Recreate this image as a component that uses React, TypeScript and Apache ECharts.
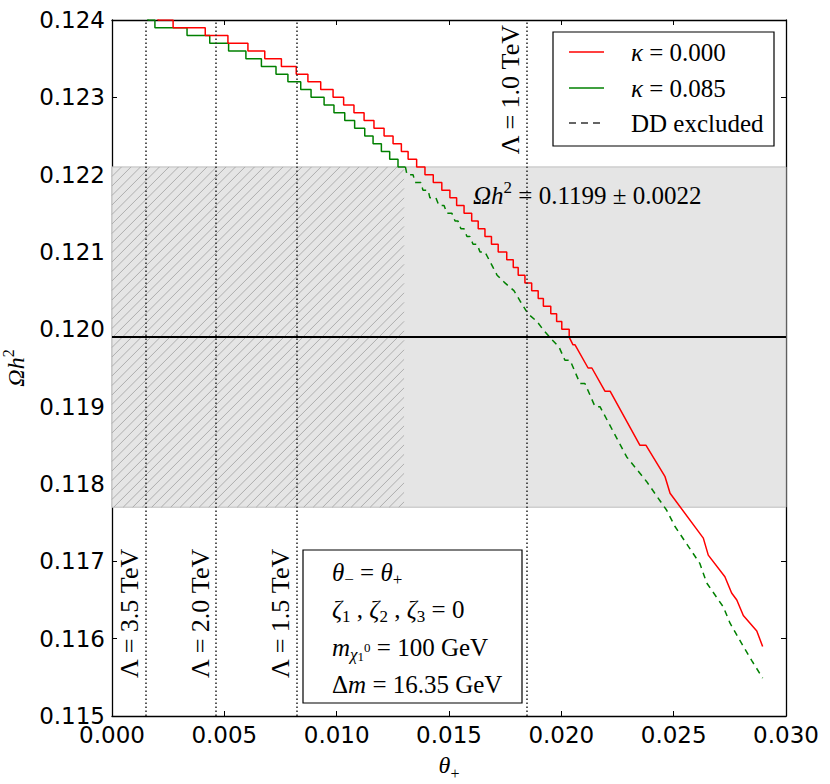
import React, { useEffect, useRef } from "react";
import * as echarts from "echarts";

const SERIF = "'Liberation Serif', 'DejaVu Serif', serif";
const SANS = "'DejaVu Sans', sans-serif";

const X_MIN = 0;
const X_MAX = 0.03;
const X_STEP = 0.005;
const Y_MIN = 0.115;
const Y_MAX = 0.124;
const Y_STEP = 0.001;

const OMEGA_CENTRAL = 0.1199;
const OMEGA_ERROR = 0.0022;
const HATCH_LIMIT = 0.013;

const LAMBDA_LABELS = ["3.5", "2.0", "1.5", "1.0"];
const LAMBDA_THETA = [0.0015, 0.00463, 0.00823, 0.01846];

const LEGEND_LABELS = ["κ = 0.000", "κ = 0.085", "DD excluded"];

// kappa = 0.000 : staircase part [theta, Omega h^2] (level start points)
const RED_STAIRS: number[][] = [
  [0.00169, 0.1241], [0.00205, 0.124], [0.00272, 0.1239], [0.00415, 0.1238],
  [0.00516, 0.1237], [0.00605, 0.1236], [0.0068, 0.1235], [0.00754, 0.1234],
  [0.0082, 0.1233], [0.00872, 0.1232], [0.00929, 0.1231], [0.00984, 0.123],
  [0.01031, 0.1229], [0.01077, 0.1228], [0.01122, 0.1227], [0.01166, 0.1226],
  [0.01211, 0.1225], [0.01251, 0.1224], [0.01288, 0.1223], [0.01318, 0.1222],
  [0.01356, 0.1221], [0.01393, 0.122], [0.0143, 0.1219], [0.01468, 0.1218],
  [0.01504, 0.1217], [0.01534, 0.1216], [0.01567, 0.1215], [0.01601, 0.1214],
  [0.0163, 0.1213], [0.0166, 0.1212], [0.01689, 0.1211], [0.01719, 0.121],
  [0.01757, 0.1209], [0.01786, 0.1208], [0.01808, 0.1207], [0.01838, 0.1206],
  [0.01868, 0.1205], [0.01897, 0.1204], [0.0192, 0.1203], [0.01953, 0.1202],
  [0.01979, 0.1201], [0.02002, 0.12], [0.02035, 0.1199],
];

// kappa = 0.000 : high-theta part
const RED_TAIL: number[][] = [
  [0.02035, 0.1199], [0.02052, 0.1198], [0.02061, 0.1198], [0.02119, 0.1195],
  [0.02136, 0.1195], [0.02194, 0.1192], [0.02217, 0.1192], [0.0235, 0.1185],
  [0.02377, 0.1185], [0.02461, 0.1181], [0.02484, 0.11788], [0.02632, 0.1173],
  [0.02654, 0.11708], [0.02728, 0.1168], [0.02758, 0.11659], [0.02781, 0.1165],
  [0.0281, 0.1163], [0.0287, 0.1161], [0.02896, 0.1159],
];

// kappa = 0.085 : allowed (solid) staircase
const GREEN_STAIRS: number[][] = [
  [0.00125, 0.1241], [0.0016, 0.124], [0.00191, 0.1239], [0.00334, 0.1238],
  [0.00435, 0.1237], [0.00519, 0.1236], [0.00596, 0.1235], [0.00665, 0.1234],
  [0.0073, 0.1233], [0.00783, 0.1232], [0.0084, 0.1231], [0.00886, 0.123],
  [0.00944, 0.1229], [0.00988, 0.1228], [0.01036, 0.1227], [0.0108, 0.1226],
  [0.01125, 0.1225], [0.01162, 0.1224], [0.01199, 0.1223], [0.01236, 0.1222],
  [0.01273, 0.1221], [0.01306, 0.1221],
];

// kappa = 0.085 : DD excluded (dashed)
const GREEN_EXCLUDED: number[][] = [
  [0.01306, 0.1221], [0.01313, 0.122], [0.0134, 0.122], [0.01349, 0.1219],
  [0.01375, 0.1219], [0.01384, 0.1218], [0.01407, 0.1218], [0.01415, 0.1217],
  [0.01442, 0.1217], [0.01455, 0.1216], [0.01478, 0.1216], [0.01491, 0.1215],
  [0.01513, 0.1215], [0.01527, 0.1214], [0.0154, 0.1214], [0.01553, 0.1213],
  [0.01567, 0.1213], [0.0158, 0.1212], [0.01593, 0.1212], [0.01607, 0.1211],
  [0.01625, 0.1211], [0.01638, 0.121], [0.0166, 0.121], [0.01678, 0.1209],
  [0.01696, 0.1208], [0.01714, 0.1207], [0.01749, 0.1206], [0.01789, 0.1205],
  [0.0182, 0.12035], [0.01852, 0.1202], [0.01892, 0.1201], [0.01918, 0.12],
  [0.01954, 0.11988], [0.0199, 0.11977], [0.02016, 0.1196], [0.02039, 0.1196],
  [0.02083, 0.1193], [0.02105, 0.1193], [0.0215, 0.119], [0.02172, 0.119],
  [0.02291, 0.11835], [0.0238, 0.11803], [0.02469, 0.11766], [0.02506, 0.11745],
  [0.02617, 0.11697], [0.02647, 0.11672], [0.02721, 0.11641], [0.02751, 0.1162],
  [0.0281, 0.1159], [0.02847, 0.11572], [0.02896, 0.11549],
];

const RED = "#ff0000";
const GREEN = "#008000";

const mathRich = (size: number) => ({
  a: { fontFamily: SERIF, fontSize: size, lineHeight: 32, fill: "#000", color: "#000" },
  i: { fontFamily: SERIF, fontSize: size, fontStyle: "italic", lineHeight: 32, fill: "#000", color: "#000" },
  sub: { fontFamily: SERIF, fontSize: Math.round(size * 0.66), verticalAlign: "bottom", fill: "#000", color: "#000" },
  subi: { fontFamily: SERIF, fontSize: Math.round(size * 0.66), fontStyle: "italic", verticalAlign: "bottom", fill: "#000", color: "#000" },
  ss: { fontFamily: SERIF, fontSize: Math.round(size * 0.5), verticalAlign: "bottom", fill: "#000", color: "#000" },
  sm: { fontFamily: SERIF, fontSize: Math.round(size * 0.5), verticalAlign: "middle", fill: "#000", color: "#000" },
  sup: { fontFamily: SERIF, fontSize: Math.round(size * 0.66), verticalAlign: "top", fill: "#000", color: "#000" },
});

function hatchRenderItem(params: any, api: any) {
  const pTL = api.coord([api.value(0), api.value(3)]);
  const pBR = api.coord([api.value(1), api.value(2)]);
  const x0 = pTL[0], y0 = pTL[1], x1 = pBR[0], y1 = pBR[1];
  const children: any[] = [];
  const spacing = 9.5;
  for (let c = x0 + y0; c <= x1 + y1; c += spacing) {
    const xs = Math.max(x0, c - y1);
    const xe = Math.min(x1, c - y0);
    if (xe > xs) {
      children.push({
        type: "line",
        shape: { x1: xs, y1: c - xs, x2: xe, y2: c - xe },
        style: { stroke: "#a0a0a0", lineWidth: 0.8 },
      });
    }
  }
  return { type: "group", children };
}

export default function App() {
  const ref = useRef<HTMLDivElement>(null);

  useEffect(() => {
    document.body.style.margin = "0";
    if (!ref.current) return;
    const chart = echarts.init(ref.current, undefined, { renderer: "svg" });

    const axisLine = { show: true, onZero: false, lineStyle: { color: "#000", width: 1.3 } };
    const axisTick = { show: true, inside: true, length: 5, lineStyle: { color: "#000", width: 1 } };
    const tickLabel = {
      show: true,
      fontFamily: SANS,
      fontSize: 23,
      color: "#000",
      showMinLabel: true,
      showMaxLabel: true,
      formatter: (v: number) => v.toFixed(3),
    };

    const lambdaLines = LAMBDA_THETA.map((t, k) => ({
      xAxis: t,
      lineStyle: { type: [1.5, 2.5], color: "#222", width: 1.5 },
      label: {
        show: true,
        formatter: `Λ = ${LAMBDA_LABELS[k]} TeV`,
        position: k === 3 ? "insideEndTop" : "insideStartTop",
        distance: k === 3 ? [5, 3] : [38, 3],
        fontFamily: SERIF,
        fontSize: 26,
        color: "#000",
      },
    }));

    const option: any = {
      animation: false,
      backgroundColor: "#fff",
      grid: { left: 112, right: 44, top: 20, bottom: 68, containLabel: false, outerBoundsMode: "none" },
      xAxis: [
        {
          type: "value", min: X_MIN, max: X_MAX, interval: X_STEP, position: "bottom",
          axisLine, axisTick, splitLine: { show: false },
          axisLabel: { ...tickLabel, margin: 7 },
          name: "{i|θ}{sub|+}", nameLocation: "middle", nameGap: 33,
          nameTextStyle: { fontFamily: SERIF, fontSize: 24, color: "#000", rich: mathRich(24) },
        },
        {
          type: "value", min: X_MIN, max: X_MAX, interval: X_STEP, position: "top",
          axisLine, axisTick, splitLine: { show: false }, axisLabel: { show: false },
        },
      ],
      yAxis: [
        {
          type: "value", min: Y_MIN, max: Y_MAX, interval: Y_STEP, position: "left",
          axisLine, axisTick, splitLine: { show: false },
          axisLabel: { ...tickLabel, margin: 7 },
          name: "{i|Ωh}{sup|2}", nameLocation: "middle", nameGap: 78, nameRotate: 90,
          nameTextStyle: { fontFamily: SERIF, fontSize: 24, color: "#000", rich: mathRich(24) },
        },
        {
          type: "value", min: Y_MIN, max: Y_MAX, interval: Y_STEP, position: "right",
          axisLine, axisTick, splitLine: { show: false }, axisLabel: { show: false },
        },
      ],
      series: [
        {
          type: "custom",
          name: "hatch",
          silent: true,
          renderItem: hatchRenderItem,
          data: [[X_MIN, HATCH_LIMIT, OMEGA_CENTRAL - OMEGA_ERROR, OMEGA_CENTRAL + OMEGA_ERROR]],
          encode: { x: [0, 1], y: [2, 3] },
          z: 2,
        },
        {
          type: "line",
          name: LEGEND_LABELS[0],
          step: "end",
          data: RED_STAIRS,
          symbol: "none",
          silent: true,
          clip: true,
          lineStyle: { color: RED, width: 1.5 },
          itemStyle: { color: RED },
          z: 4,
          markArea: {
            silent: true,
            precision: 6,
            itemStyle: { color: "#e5e5e5", borderColor: "#bdbdbd", borderWidth: 1 },
            data: [[{ yAxis: OMEGA_CENTRAL - OMEGA_ERROR }, { yAxis: OMEGA_CENTRAL + OMEGA_ERROR }]],
          },
          markLine: {
            silent: true,
            precision: 6,
            symbol: ["none", "none"],
            data: [
              ...lambdaLines,
              { yAxis: OMEGA_CENTRAL, lineStyle: { type: "solid", color: "#000", width: 2 }, label: { show: false } },
            ],
          },
        },
        {
          type: "line",
          name: LEGEND_LABELS[0] + " tail",
          data: RED_TAIL,
          symbol: "none",
          silent: true,
          clip: true,
          lineStyle: { color: RED, width: 1.5 },
          itemStyle: { color: RED },
          z: 4,
        },
        {
          type: "line",
          name: LEGEND_LABELS[1],
          step: "end",
          data: GREEN_STAIRS,
          symbol: "none",
          silent: true,
          clip: true,
          lineStyle: { color: GREEN, width: 1.5 },
          itemStyle: { color: GREEN },
          z: 3,
        },
        {
          type: "line",
          name: LEGEND_LABELS[2],
          data: GREEN_EXCLUDED,
          symbol: "none",
          silent: true,
          clip: true,
          lineStyle: { color: GREEN, width: 1.5, type: [6, 5] },
          itemStyle: { color: GREEN },
          z: 3,
        },
      ],
      graphic: [
        // legend
        { type: "rect", z: 100, shape: { x: 553, y: 32, width: 221, height: 114 }, style: { fill: "#fff", stroke: "#000", lineWidth: 1.2 } },
        { type: "line", z: 101, shape: { x1: 569, y1: 52, x2: 604, y2: 52 }, style: { stroke: RED, lineWidth: 1.5 } },
        { type: "line", z: 101, shape: { x1: 569, y1: 88, x2: 604, y2: 88 }, style: { stroke: GREEN, lineWidth: 1.5 } },
        { type: "line", z: 101, shape: { x1: 569, y1: 123, x2: 604, y2: 123 }, style: { stroke: "#333", lineWidth: 1.5, lineDash: [7, 5] } },
        { type: "text", z: 101, x: 631, y: 52, style: { text: "{i|κ}{a| = 0.000}", rich: mathRich(25), verticalAlign: "middle", fill: "#000" } },
        { type: "text", z: 101, x: 631, y: 88, style: { text: "{i|κ}{a| = 0.085}", rich: mathRich(25), verticalAlign: "middle", fill: "#000" } },
        { type: "text", z: 101, x: 631, y: 123, style: { text: "{a|DD excluded}", rich: mathRich(25), verticalAlign: "middle", fill: "#000" } },
        // band label
        { type: "text", z: 101, x: 473, y: 195, style: { text: "{i|Ωh}{sup|2}{a| = 0.1199 ± 0.0022}", rich: mathRich(25), verticalAlign: "middle", fill: "#000" } },
        // parameter box
        { type: "rect", z: 100, shape: { x: 303, y: 550, width: 219, height: 153 }, style: { fill: "#fff", stroke: "#000", lineWidth: 1.2 } },
        { type: "text", z: 101, x: 332, y: 572, style: { text: "{i|θ}{sub|−}{a| = }{i|θ}{sub|+}", rich: mathRich(25), verticalAlign: "middle", fill: "#000" } },
        { type: "text", z: 101, x: 332, y: 609, style: { text: "{i|ζ}{sub|1}{a| , }{i|ζ}{sub|2}{a| , }{i|ζ}{sub|3}{a| = 0}", rich: mathRich(25), verticalAlign: "middle", fill: "#000" } },
        { type: "text", z: 101, x: 332, y: 647, style: { text: "{i|m}{subi|χ}{ss|1}{sm|0}{a| = 100 GeV}", rich: mathRich(25), verticalAlign: "middle", fill: "#000" } },
        { type: "text", z: 101, x: 332, y: 684, style: { text: "{a|Δ}{i|m}{a| = 16.35 GeV}", rich: mathRich(25), verticalAlign: "middle", fill: "#000" } },
      ],
    };

    chart.setOption(option);
    return () => chart.dispose();
  }, []);

  return <div ref={ref} style={{ width: 830, height: 784 }} />;
}
